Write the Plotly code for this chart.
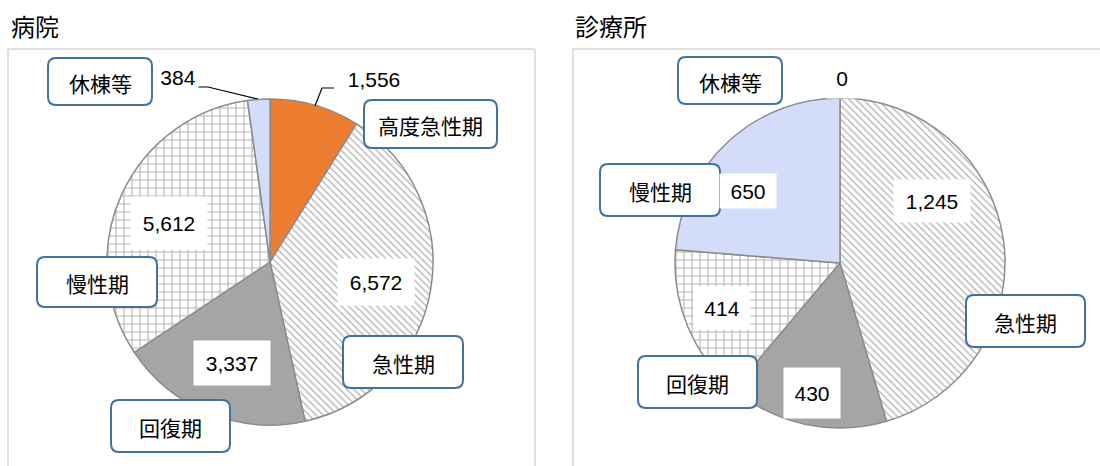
import plotly.graph_objects as go

# Beds by function, hospitals vs clinics
categories = ["高度急性期", "急性期", "回復期", "慢性期", "休棟等"]
hospital_values = [1556, 6572, 3337, 5612, 384]
clinic_values = [0, 1245, 430, 414, 650]
panel_titles = ["病院", "診療所"]

W, H = 1100, 466
JP_FONT = "Noto Sans CJK JP, Noto Sans, sans-serif"
NUM_FONT = "Liberation Sans, Arial, sans-serif"

slice_colors = ["#ed7d31", "#ffffff", "#a5a5a5", "#ffffff", "#d3ddf9"]
pattern_shapes = ["", "\\", "", "+", ""]
pattern_fg = ["#ed7d31", "#b0b0b0", "#a5a5a5", "#b4b4b4", "#d3ddf9"]


def pie_domain(cx, cy, r):
    return dict(x=[(cx - r) / W, (cx + r) / W],
                y=[(H - cy - r) / H, (H - cy + r) / H])


def pie_trace(values, cx, cy, r):
    return go.Pie(
        labels=categories,
        values=values,
        sort=False,
        direction="clockwise",
        rotation=0,
        textinfo="none",
        hoverinfo="label+value",
        showlegend=False,
        domain=pie_domain(cx, cy, r),
        marker=dict(
            colors=slice_colors,
            line=dict(color="#8c8c8c", width=1.5),
            pattern=dict(shape=pattern_shapes, fgcolor=pattern_fg,
                         bgcolor=slice_colors, size=[8, 5, 8, 8, 8],
                         solidity=[0.3, 0.25, 0.3, 0.25, 0.3]),
        ),
    )


fig = go.Figure()
fig.add_trace(pie_trace(hospital_values, 270, 262, 163))
fig.add_trace(pie_trace(clinic_values, 840, 263, 165))

shapes = []
annotations = []

# panel frames
for x0, x1 in [(8, 535), (573, 1110)]:
    shapes.append(dict(type="rect", xref="x", yref="y", x0=x0, x1=x1, y0=49, y1=480,
                       line=dict(color="#bfbfbf", width=1), fillcolor="rgba(0,0,0,0)",
                       layer="below"))

# panel titles
for title, x in zip(panel_titles, [9, 573]):
    annotations.append(dict(x=x, y=25, xref="x", yref="y", text=title, showarrow=False,
                            xanchor="left", yanchor="middle",
                            font=dict(family=JP_FONT, size=24, color="#000000")))

# value label placement (pixel centre, box width, box height)
hospital_label_pos = {
    "高度急性期": (374, 79, 66, 26),
    "急性期": (376, 282, 76, 46),
    "回復期": (232, 363, 76, 44),
    "慢性期": (169, 223, 76, 52),
    "休棟等": (178, 77, 40, 26),
}
clinic_label_pos = {
    "高度急性期": (842, 78, 30, 40),
    "急性期": (932, 201, 76, 42),
    "回復期": (812, 393, 56, 50),
    "慢性期": (722, 308, 56, 42),
    "休棟等": (748, 191, 56, 34),
}

for values, pos in [(hospital_values, hospital_label_pos), (clinic_values, clinic_label_pos)]:
    for cat, v in zip(categories, values):
        x, y, bw, bh = pos[cat]
        annotations.append(dict(x=x, y=y, xref="x", yref="y", text=f"{v:,}",
                                showarrow=False, xanchor="center", yanchor="middle",
                                width=bw, height=bh, bgcolor="#ffffff", borderpad=0,
                                font=dict(family=NUM_FONT, size=21, color="#000000")))

# leader lines for the small hospital slices
for path in ["M 315 106 L 322 88 L 334 88", "M 258 99 L 208 87 L 198 87"]:
    shapes.append(dict(type="path", xref="x", yref="y", path=path,
                       line=dict(color="#000000", width=1.2), layer="above"))

# category callouts (text, x0, y0, x1, y1)
callouts = [
    ("休棟等", 48, 58, 152, 105),
    ("高度急性期", 364, 100, 497, 148),
    ("慢性期", 37, 257, 157, 307),
    ("急性期", 343, 336, 463, 388),
    ("回復期", 111, 400, 230, 452),
    ("休棟等", 678, 57, 782, 104),
    ("慢性期", 600, 164, 720, 216),
    ("急性期", 966, 295, 1085, 347),
    ("回復期", 638, 356, 757, 408),
]


def rounded_rect(x0, y0, x1, y1, r=8):
    return (f"M {x0 + r} {y0} L {x1 - r} {y0} Q {x1} {y0} {x1} {y0 + r} "
            f"L {x1} {y1 - r} Q {x1} {y1} {x1 - r} {y1} "
            f"L {x0 + r} {y1} Q {x0} {y1} {x0} {y1 - r} "
            f"L {x0} {y0 + r} Q {x0} {y0} {x0 + r} {y0} Z")


for text, x0, y0, x1, y1 in callouts:
    shapes.append(dict(type="path", xref="x", yref="y", path=rounded_rect(x0, y0, x1, y1),
                       line=dict(color="#41719c", width=2), fillcolor="#ffffff",
                       layer="above"))
    annotations.append(dict(x=(x0 + x1) / 2, y=(y0 + y1) / 2 + 1, xref="x", yref="y",
                            text=text, showarrow=False, xanchor="center", yanchor="middle",
                            font=dict(family=JP_FONT, size=21, color="#000000")))

fig.update_layout(
    width=W, height=H,
    margin=dict(l=0, r=0, t=0, b=0),
    paper_bgcolor="#ffffff", plot_bgcolor="rgba(0,0,0,0)",
    xaxis=dict(range=[0, W], visible=False, fixedrange=True),
    yaxis=dict(range=[H, 0], visible=False, fixedrange=True),
    shapes=shapes,
    annotations=annotations,
)

fig.write_html("out.html")
